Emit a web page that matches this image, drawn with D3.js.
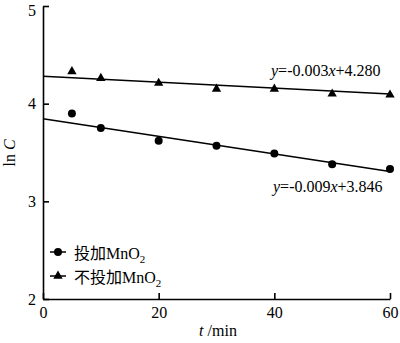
<!DOCTYPE html>
<html><head><meta charset="utf-8">
<script src="https://cdn.jsdelivr.net/npm/d3@7"></script>
<style>
html,body{margin:0;padding:0;background:#fff;}
svg{display:block;font-family:"Liberation Serif","Times New Roman",serif;}
</style></head>
<body>
<script>
const times = [5, 10, 20, 30, 40, 50, 60];
const withMnO2 = [3.90, 3.75, 3.62, 3.57, 3.49, 3.38, 3.33];
const withoutMnO2 = [4.33, 4.26, 4.21, 4.15, 4.15, 4.10, 4.09];
const fitWith = {slope: -0.009, intercept: 3.846, label: "-0.009", c: "+3.846"};
const fitWithout = {slope: -0.003, intercept: 4.280, label: "-0.003", c: "+4.280"};
const xTicks = [0, 20, 40, 60];
const yTicks = [2, 3, 4, 5];
const legendLabels = ["投加MnO", "不投加MnO"];

const W = 400, H = 343;
const svg = d3.select("body").append("svg").attr("width", W).attr("height", H);
const x = d3.scaleLinear().domain([0, 60]).range([43, 390]);
const y = d3.scaleLinear().domain([2, 5]).range([299, 6]);

const xAxis = svg.append("g").attr("transform", `translate(0,${y(2)})`)
  .call(d3.axisBottom(x).tickValues(xTicks).tickFormat(d3.format("d")).tickSize(-6).tickSizeOuter(0).tickPadding(8));
const yAxis = svg.append("g").attr("transform", `translate(${x(0)},0)`)
  .call(d3.axisLeft(y).tickValues(yTicks).tickFormat(d3.format("d")).tickSize(-6).tickSizeOuter(0).tickPadding(7));
[xAxis, yAxis].forEach(g => {
  g.selectAll("path,line").attr("stroke", "#000").attr("stroke-width", 1.6);
  g.selectAll("text").attr("fill", "#000").style("font-size", "16px").style("font-family", "Liberation Serif, serif");
});
yAxis.selectAll(".tick").filter(d => d === 5).select("text").attr("dy", "0.62em");

const line = d3.line().x(d => x(d[0])).y(d => y(d[1]));
[fitWith, fitWithout].forEach(f => {
  svg.append("path").datum([[0, f.intercept], [60, f.intercept + 60 * f.slope]])
    .attr("d", line).attr("fill", "none").attr("stroke", "#000").attr("stroke-width", 1.5);
});

svg.append("g").selectAll("circle").data(times).join("circle")
  .attr("cx", (d) => x(d)).attr("cy", (d, i) => y(withMnO2[i])).attr("r", 4).attr("fill", "#000");
const tri = d3.symbol().type(d3.symbolTriangle).size(38);
svg.append("g").selectAll("path").data(times).join("path")
  .attr("d", tri).attr("transform", (d, i) => `translate(${x(d)},${y(withoutMnO2[i])})`).attr("fill", "#000");

function eq(f, px, py) {
  const t = svg.append("text").attr("x", px).attr("y", py).style("font-size", "16px").attr("fill", "#000");
  t.append("tspan").style("font-style", "italic").text("y");
  t.append("tspan").text("=" + f.label);
  t.append("tspan").style("font-style", "italic").text("x");
  t.append("tspan").text(f.c);
}
eq(fitWithout, 271, 76);
eq(fitWith, 273, 192);

// axis labels
const yl = svg.append("text").attr("transform", "translate(15,153) rotate(-90)")
  .attr("text-anchor", "middle").style("font-size", "16px").attr("fill", "#000");
yl.append("tspan").text("ln ");
yl.append("tspan").style("font-style", "italic").text("C");
const xl = svg.append("text").attr("x", 218).attr("y", 336).attr("text-anchor", "middle")
  .style("font-size", "16px").attr("fill", "#000");
xl.append("tspan").style("font-style", "italic").text("t");
xl.append("tspan").text(" /min");

// legend
const leg = svg.append("g");
legendLabels.forEach((lab, i) => {
  const cy = 252 + i * 24;
  leg.append("line").attr("x1", 50).attr("x2", 66).attr("y1", cy).attr("y2", cy)
    .attr("stroke", "#000").attr("stroke-width", 1.5);
  if (i === 0) leg.append("circle").attr("cx", 58).attr("cy", cy).attr("r", 4).attr("fill", "#000");
  else leg.append("path").attr("d", tri).attr("transform", `translate(58,${cy})`).attr("fill", "#000");
  const t = leg.append("text").attr("x", 74).attr("y", cy + 7).style("font-size", "16px").attr("fill", "#000")
    .style("font-family", "Liberation Serif, 'Noto Sans CJK SC', serif");
  t.append("tspan").text(lab);
  t.append("tspan").attr("dy", 4).style("font-size", "11px").text("2");
});
</script>
</body></html>
